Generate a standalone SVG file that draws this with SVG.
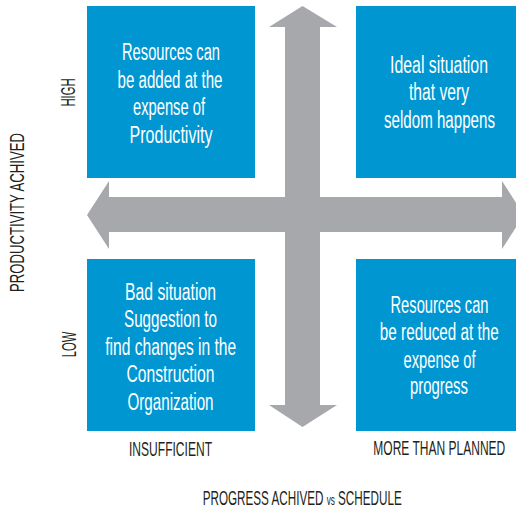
<svg xmlns="http://www.w3.org/2000/svg" width="516" height="509" viewBox="0 0 516 509">
<style>
.box{fill:#0096d1;}
.bt{font-family:"Liberation Sans Narrow","Liberation Sans",Arial,sans-serif;font-size:23.5px;fill:#ffffff;text-anchor:middle;}
.lb{font-family:"Liberation Sans Narrow","Liberation Sans",Arial,sans-serif;font-size:20px;fill:#231f20;}
.arrow{fill:#a7a8ac;}
</style>
<rect width="516" height="509" fill="#ffffff"/>
<g id="connectors">
<polygon class="arrow" points="302.5,6 337,27 320,27 320,405 337,405 302.5,427 269,405 285,405 285,27 269,27"/>
<polygon class="arrow" points="87,215 109,181 109,197 502,197 502,181 524,215 502,249 502,232 109,232 109,249"/>
</g>
<g id="node-high-low-left">
<rect class="box" x="87" y="6" width="168" height="172"/>
<text class="bt" x="171" y="60" textLength="98" lengthAdjust="spacingAndGlyphs">Resources can</text>
<text class="bt" x="170" y="87.5" textLength="105" lengthAdjust="spacingAndGlyphs">be added at the</text>
<text class="bt" x="169" y="115" textLength="72" lengthAdjust="spacingAndGlyphs">expense of</text>
<text class="bt" x="171" y="142.5" textLength="83" lengthAdjust="spacingAndGlyphs">Productivity</text>
</g>
<g id="node-ideal">
<rect class="box" x="356" y="6" width="160" height="172"/>
<text class="bt" x="439" y="72.7" textLength="98" lengthAdjust="spacingAndGlyphs">Ideal situation</text>
<text class="bt" x="439" y="100" textLength="60" lengthAdjust="spacingAndGlyphs">that very</text>
<text class="bt" x="439.5" y="127.7" textLength="111" lengthAdjust="spacingAndGlyphs">seldom happens</text>
</g>
<g id="node-bad">
<rect class="box" x="87" y="259" width="168" height="172"/>
<text class="bt" x="170.5" y="300" textLength="91" lengthAdjust="spacingAndGlyphs">Bad situation</text>
<text class="bt" x="170.5" y="327.3" textLength="93" lengthAdjust="spacingAndGlyphs">Suggestion to</text>
<text class="bt" x="170.7" y="355" textLength="131" lengthAdjust="spacingAndGlyphs">find changes in the</text>
<text class="bt" x="170.5" y="382.3" textLength="88" lengthAdjust="spacingAndGlyphs">Construction</text>
<text class="bt" x="170.5" y="410" textLength="86" lengthAdjust="spacingAndGlyphs">Organization</text>
</g>
<g id="node-reduce">
<rect class="box" x="356" y="259" width="160" height="172"/>
<text class="bt" x="439.5" y="312.7" textLength="98" lengthAdjust="spacingAndGlyphs">Resources can</text>
<text class="bt" x="439.3" y="340" textLength="119" lengthAdjust="spacingAndGlyphs">be reduced at the</text>
<text class="bt" x="439.5" y="367.7" textLength="72" lengthAdjust="spacingAndGlyphs">expense of</text>
<text class="bt" x="439" y="394.3" textLength="58" lengthAdjust="spacingAndGlyphs">progress</text>
</g>
<g id="labels">
<text class="lb" x="170.5" y="455.7" text-anchor="middle" textLength="83" lengthAdjust="spacingAndGlyphs">INSUFFICIENT</text>
<text class="lb" x="439.3" y="455" text-anchor="middle" textLength="132" lengthAdjust="spacingAndGlyphs">MORE THAN PLANNED</text>
<text class="lb" x="202.7" y="505" textLength="199" lengthAdjust="spacingAndGlyphs">PROGRESS ACHIVED <tspan font-size="14">vs</tspan> SCHEDULE</text>
<text class="lb" transform="translate(24,212.5) rotate(-90)" x="0" y="0" text-anchor="middle" textLength="159" lengthAdjust="spacingAndGlyphs">PRODUCTIVITY ACHIVED</text>
<text class="lb" transform="translate(75,92.5) rotate(-90)" x="0" y="0" text-anchor="middle" textLength="28" lengthAdjust="spacingAndGlyphs">HIGH</text>
<text class="lb" transform="translate(76,344.5) rotate(-90)" x="0" y="0" text-anchor="middle" textLength="25.6" lengthAdjust="spacingAndGlyphs">LOW</text>
</g>
</svg>
